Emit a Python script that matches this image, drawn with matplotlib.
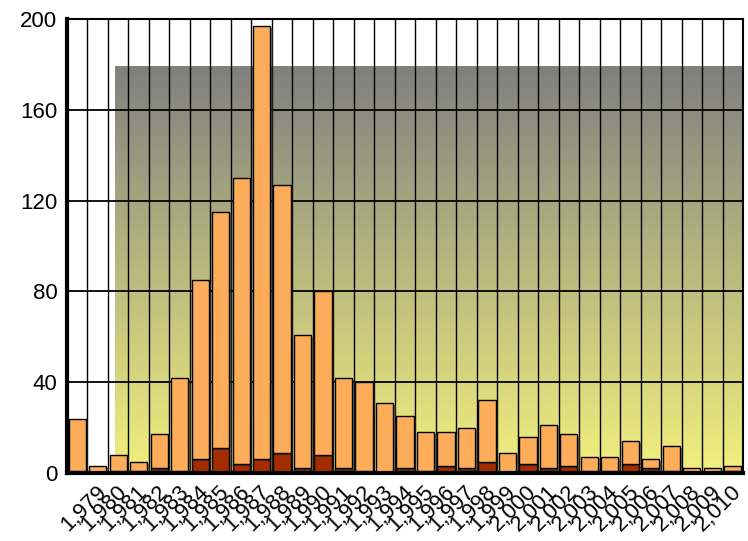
import numpy as np
import matplotlib
import matplotlib.pyplot as plt
import matplotlib.patheffects as pe
import matplotlib.transforms as mtransforms

matplotlib.use('Agg')

# values (33 bars, the first one has no label)
year_labels = [''] + ['{:,}'.format(y) for y in range(1979, 2011)]
totals = [24, 3, 8, 5, 17, 42, 85, 115, 130, 197, 127, 61, 80, 42, 40, 31, 25,
          18, 18, 20, 32, 9, 16, 21, 17, 7, 7, 14, 6, 12, 2, 2, 3]
dark = [1, 0, 1, 1, 2, 1, 6, 11, 4, 6, 9, 2, 8, 2, 1, 0, 2,
        1, 3, 2, 5, 0, 4, 2, 3, 1, 1, 4, 2, 1, 0, 0, 1]
y_ticks = [0, 40, 80, 120, 160, 200]

# decorative backdrop box (data units)
box_left = 1.84
box_top = 179

plt.rcParams['font.family'] = ['Liberation Sans', 'DejaVu Sans']

fig = plt.figure(figsize=(7.48, 5.41), dpi=100)
ax = fig.add_axes([67 / 748, 1 - 473 / 541, 676 / 748, 454 / 541])

n = len(totals)
x = np.arange(n)
top = np.array(totals) - np.array(dark)

ax.set_xlim(-0.5, n - 0.5)
ax.set_ylim(0, 200)

# gray -> yellow vertical gradient
c_top = np.array([128, 128, 128]) / 255
c_bot = np.array([242, 240, 125]) / 255
t = np.linspace(0, 1, 256)[:, None]
grad = (c_top * (1 - t) + c_bot * t)[:, None, :]
ax.imshow(grad, extent=[box_left, n - 0.5, 0, box_top], aspect='auto',
          origin='upper', zorder=0.5, interpolation='bilinear')

# grid
for yv in y_ticks[1:-1]:
    ax.axhline(yv, color='black', lw=1.3, zorder=1)
for k in range(n - 1):
    ax.axvline(k + 0.5, color='black', lw=1.0, zorder=1)

shadow = [pe.SimplePatchShadow(offset=(1.8, -1.5), shadow_rgbFace='#303030', alpha=0.6),
          pe.Normal()]
b1 = ax.bar(x, dark, width=0.84, color='#a32c00', edgecolor='black', lw=1.0,
            zorder=2)
b2 = ax.bar(x, top, bottom=dark, width=0.84, color='#fdac5a', edgecolor='black',
            lw=1.0, zorder=2)
for p in list(b1) + list(b2):
    p.set_path_effects(shadow)

ax.set_yticks(y_ticks)
ax.set_yticklabels([str(v) for v in y_ticks], fontsize=16)
ax.set_xticks(x)
ax.set_xticklabels(year_labels, fontsize=16, rotation=45, ha='right',
                   va='top', rotation_mode='anchor')
ax.tick_params(axis='y', length=0, pad=7)
ax.tick_params(axis='x', length=0, pad=6)
shift = mtransforms.ScaledTranslation(-2 / 100, 0, fig.dpi_scale_trans)
for lab in ax.get_xticklabels():
    lab.set_transform(lab.get_transform() + shift)

ax.spines['left'].set_linewidth(3)
ax.spines['bottom'].set_linewidth(3)
ax.spines['top'].set_linewidth(1.5)
ax.spines['right'].set_linewidth(1.5)
for s in ax.spines.values():
    s.set_zorder(3)

fig.savefig('out.png', dpi=100)
